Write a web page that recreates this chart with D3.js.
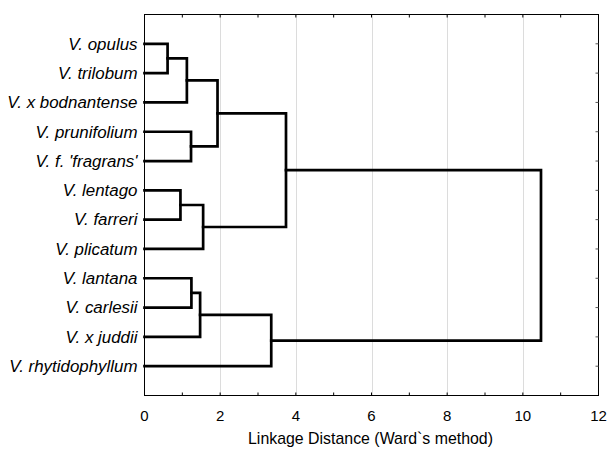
<!DOCTYPE html>
<html>
<head>
<meta charset="utf-8">
<script src="https://cdn.jsdelivr.net/npm/d3@7"></script>
<style>
  html, body { margin: 0; padding: 0; background: #fff; }
  svg { display: block; }
  text { font-family: "Liberation Sans", Arial, sans-serif; fill: #000; }
</style>
</head>
<body>
<svg id="chart" width="608" height="450"></svg>
<script>
// Leaf order, top to bottom
const leaves = [
  "V. opulus", "V. trilobum", "V. x bodnantense", "V. prunifolium",
  "V. f. 'fragrans'", "V. lentago", "V. farreri", "V. plicatum",
  "V. lantana", "V. carlesii", "V. x juddii", "V. rhytidophyllum"
];

// Agglomeration steps: [left member, right member, linkage distance]
// Members are leaf names or "c<k>" referring to the k-th step's cluster.
const mergeLeft  = ["V. opulus", "c0", "V. prunifolium", "c1", "V. lentago", "c4", "c3", "V. lantana", "c7", "c8", "c6"];
const mergeRight = ["V. trilobum", "V. x bodnantense", "V. f. 'fragrans'", "c2", "V. farreri", "V. plicatum", "c5", "V. carlesii", "V. x juddii", "V. rhytidophyllum", "c9"];
const mergeDist  = [0.61, 1.12, 1.23, 1.93, 0.95, 1.55, 3.74, 1.24, 1.47, 3.35, 10.48];

const xTicks = [0, 2, 4, 6, 8, 10, 12];
const xMinorTicks = [1, 3, 5, 7, 9, 11];
const xTitle = "Linkage Distance (Ward`s method)";

const svg = d3.select("#chart");
const plotL = 144.5, plotR = 598.5, plotT = 14.5, plotB = 395.5;

const x = d3.scaleLinear().domain([0, 12]).range([plotL, plotR]);
const y = d3.scaleLinear().domain([0, leaves.length + 1]).range([plotT, plotB]);

// Vertical gridlines
svg.append("g").selectAll("line")
  .data(xTicks.filter(d => d > 0 && d < 12))
  .join("line")
  .attr("x1", d => Math.round(x(d)) + 0.5).attr("x2", d => Math.round(x(d)) + 0.5)
  .attr("y1", plotT).attr("y2", plotB)
  .attr("stroke", "#dcdcdc").attr("stroke-width", 1);

// Positions of leaves and clusters
const pos = {};
leaves.forEach((name, i) => { pos[name] = { y: y(i + 1), d: 0 }; });
const links = [];
mergeDist.forEach((dist, k) => {
  const a = pos[mergeLeft[k]], b = pos[mergeRight[k]];
  links.push({ a, b, dist });
  pos["c" + k] = { y: (a.y + b.y) / 2, d: dist };
});

// Elbow connectors
svg.append("g").selectAll("path")
  .data(links)
  .join("path")
  .attr("d", l => {
    const xm = x(l.dist);
    return `M${x(l.a.d)},${l.a.y}H${xm}V${l.b.y}H${x(l.b.d)}`;
  })
  .attr("fill", "none")
  .attr("stroke", "#000")
  .attr("stroke-width", 2.7)
  .attr("stroke-linejoin", "miter")
  .attr("stroke-linecap", "square");

// Frame
svg.append("rect")
  .attr("x", plotL).attr("y", plotT)
  .attr("width", plotR - plotL).attr("height", plotB - plotT)
  .attr("fill", "none").attr("stroke", "#000").attr("stroke-width", 1);

// Bottom axis ticks (inward) and labels
const allX = xTicks.concat(xMinorTicks);
svg.append("g").selectAll("line")
  .data(allX)
  .join("line")
  .attr("x1", d => x(d)).attr("x2", d => x(d))
  .attr("y1", plotB).attr("y2", plotB - 3)
  .attr("stroke", "#000");
// Top axis ticks (inward)
svg.append("g").selectAll("line")
  .data(allX)
  .join("line")
  .attr("x1", d => x(d)).attr("x2", d => x(d))
  .attr("y1", plotT).attr("y2", plotT + 3)
  .attr("stroke", "#000");
// Right axis ticks (inward) at leaf positions
svg.append("g").selectAll("line")
  .data(leaves)
  .join("line")
  .attr("x1", plotR).attr("x2", plotR - 3)
  .attr("y1", (d, i) => y(i + 1)).attr("y2", (d, i) => y(i + 1))
  .attr("stroke", "#555");

svg.append("g").selectAll("text")
  .data(xTicks)
  .join("text")
  .attr("x", d => x(d)).attr("y", 420.5)
  .attr("text-anchor", "middle")
  .attr("font-size", "15px")
  .text(d => d);

svg.append("text")
  .attr("x", (plotL + plotR) / 2 - 1).attr("y", 443.5)
  .attr("text-anchor", "middle")
  .attr("font-size", "15.9px")
  .text(xTitle);

// Leaf labels
svg.append("g").selectAll("text")
  .data(leaves)
  .join("text")
  .attr("x", 137.5)
  .attr("y", (d, i) => y(i + 1) + 5.8)
  .attr("text-anchor", "end")
  .attr("font-size", "16.9px")
  .attr("font-style", "italic")
  .text(d => d);
</script>
</body>
</html>
